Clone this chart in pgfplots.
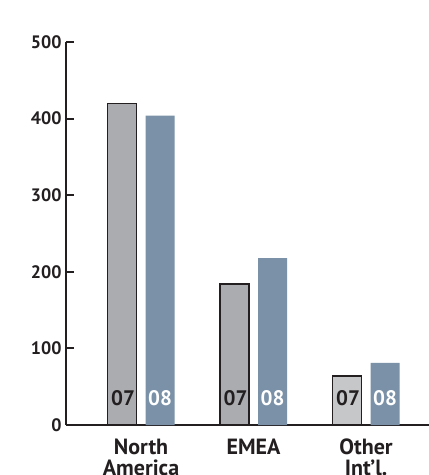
\documentclass[border=0pt]{standalone}
\usepackage{pgfplots}
\pgfplotsset{compat=1.18}
\usepackage{fontspec}
\setmainfont{PT Sans}
\definecolor{bargray}{HTML}{ABACB0}
\definecolor{barlight}{HTML}{C6C7C9}
\definecolor{barblue}{HTML}{7A91A8}
\definecolor{ink}{HTML}{231F20}
\begin{document}
\begin{tikzpicture}
\path[use as bounding box] (0pt,0pt) rectangle (429pt,475pt);
\begin{axis}[
  at={(66pt,50pt)}, anchor=south west,
  scale only axis, width=363pt, height=383pt,
  xmin=-0.667, xmax=2.56, ymin=0, ymax=500,
  axis lines=left, axis line style={ink, line width=2pt, -},
  ytick={0,100,...,500},
  ytick style={ink, line width=2pt},
  major tick length=8pt,
  ytick pos=left, yticklabel pos=left,
  ytick align=inside,
  xtick={0,1,2},
  xticklabels={North\\America, EMEA, Other\\Int'l.},
  x tick label style={align=center, font=\fontsize{22}{21}\selectfont\bfseries, text=ink, yshift=-2pt},
  xtick style={draw=none},
  y tick label style={font=\fontsize{18}{18}\selectfont\bfseries, text=ink, xshift=-1pt},
  /pgf/number format/assume math mode=true,
  ybar, bar width=29pt,
  clip=false,
]
\addplot[draw=ink, line width=1.3pt, fill=bargray, bar shift=-19pt] coordinates {(0,420) (1,184)};
\addplot[draw=ink, line width=1.3pt, fill=barlight, bar shift=-19pt] coordinates {(2,64)};
\addplot[draw=none, fill=barblue, bar shift=19pt] coordinates {(0,404) (1,218) (2,81)};
% year tags inside the bars
\node[font=\fontsize{21}{21}\selectfont\bfseries, text=ink, xshift=-18pt] at (axis cs:0,35) {07};
\node[font=\fontsize{21}{21}\selectfont\bfseries, text=ink, xshift=-18pt] at (axis cs:1,35) {07};
\node[font=\fontsize{21}{21}\selectfont\bfseries, text=ink, xshift=-18pt] at (axis cs:2,35) {07};
\node[font=\fontsize{21}{21}\selectfont\bfseries, text=white, xshift=19pt] at (axis cs:0,35) {08};
\node[font=\fontsize{21}{21}\selectfont\bfseries, text=white, xshift=19pt] at (axis cs:1,35) {08};
\node[font=\fontsize{21}{21}\selectfont\bfseries, text=white, xshift=19pt] at (axis cs:2,35) {08};
\end{axis}
\end{tikzpicture}
\end{document}
